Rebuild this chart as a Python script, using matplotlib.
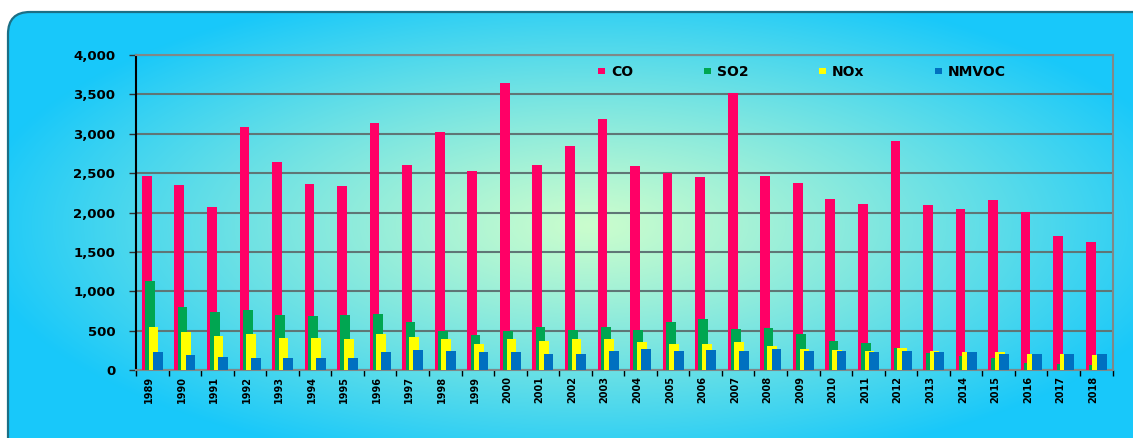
import numpy as np
import matplotlib
matplotlib.use("Agg")
import matplotlib.pyplot as plt
from matplotlib.patches import FancyBboxPatch, Patch
from matplotlib.ticker import FuncFormatter, MultipleLocator

plt.rcParams["font.family"] = ["DejaVu Sans"]
plt.rcParams["font.weight"] = "bold"

years = [str(y) for y in range(1989, 2019)]

co = [2460, 2350, 2070, 3090, 2640, 2360, 2335, 3140, 2600, 3020,
      2525, 3640, 2600, 2845, 3185, 2590, 2500, 2450, 3515, 2460,
      2375, 2170, 2105, 2905, 2095, 2045, 2160, 2005, 1700, 1625]
so2 = [1130, 800, 735, 765, 700, 685, 700, 710, 610, 495,
       440, 495, 545, 505, 545, 505, 605, 645, 520, 535,
       455, 365, 340, 275, 210, 180, 155, 95, 80, 65]
nox = [545, 480, 430, 460, 405, 405, 395, 460, 420, 390,
       330, 390, 365, 390, 395, 360, 335, 335, 360, 310,
       270, 250, 245, 285, 235, 225, 225, 205, 205, 195]
nmvoc = [225, 195, 170, 155, 155, 155, 155, 225, 250, 245,
         225, 225, 205, 205, 235, 265, 245, 250, 240, 270,
         245, 240, 230, 235, 225, 225, 205, 205, 205, 205]

series = ["CO", "SO2", "NOx", "NMVOC"]
colors = ["#ff0066", "#00a651", "#ffff00", "#0070c0"]

W, H = 1133, 438
fig = plt.figure(figsize=(W / 100, H / 100), dpi=100)

# background: rounded panel with radial gradient
bg = fig.add_axes([0, 0, 1, 1])
bg.set_xlim(0, W)
bg.set_ylim(H, 0)
bg.axis("off")

xx, yy = np.meshgrid(np.arange(W), np.arange(H))
r = np.sqrt(((xx - 590) / 620.0) ** 2 + ((yy - 225) / 250.0) ** 2)
t = np.clip(r, 0, 1) ** 1.15
c_in = np.array([202, 253, 205]) / 255.0
c_out = np.array([24, 200, 250]) / 255.0
img = c_in[None, None, :] * (1 - t[..., None]) + c_out[None, None, :] * t[..., None]

panel = FancyBboxPatch((8, 12), 1160, 460, boxstyle="round,pad=0,rounding_size=22",
                       facecolor="none", edgecolor="#1c6f85", linewidth=1.6,
                       transform=bg.transData, zorder=3)
bg.add_patch(panel)
im = bg.imshow(img, extent=(0, W, H, 0), zorder=1, interpolation="bilinear")
im.set_clip_path(panel)

# main chart
left, right, top, bottom = 136, 1112.5, 55, 370
ax = fig.add_axes([left / W, 1 - bottom / H, (right - left) / W, (bottom - top) / H])
ax.patch.set_visible(False)

x = np.arange(len(years))
width = 0.3
offsets = [0.18, 0.28, 0.385, 0.525]
for vals, name, col, off in zip([co, so2, nox, nmvoc], series, colors, offsets):
    ax.bar(x + off, vals, width=width, align="edge", color=col, label=name,
           linewidth=0, zorder=3)

ax.set_xlim(0, len(years))
ax.set_ylim(0, 4000)
ax.yaxis.set_major_locator(MultipleLocator(500))
ax.yaxis.set_major_formatter(FuncFormatter(lambda v, p: f"{int(v):,}"))
ax.grid(axis="y", color="#5f7676", linewidth=1.5, zorder=1)
ax.set_axisbelow(True)

ax.set_xticks(x + 0.4)
ax.set_xticklabels(years, rotation=90, fontsize=7, fontweight="bold")
ax.set_xticks(np.arange(len(years) + 1), minor=True)
ax.tick_params(axis="x", which="major", length=0, pad=4)
ax.tick_params(axis="x", which="minor", length=4, width=1, color="black", direction="out")
ax.tick_params(axis="y", length=5, width=1, color="#333333", pad=10, labelsize=9.5)
for lab in ax.get_yticklabels():
    lab.set_fontweight("bold")

for s in ["top", "right", "bottom"]:
    ax.spines[s].set_color("#808888")
    ax.spines[s].set_linewidth(1.5)
ax.spines["left"].set_color("black")
ax.spines["left"].set_linewidth(1.5)

handles = [Patch(facecolor=c, edgecolor="none") for c in colors]
fig.legend(handles, series, loc="center left",
           bbox_to_anchor=(598 / W, 1 - 72 / H), bbox_transform=fig.transFigure,
           ncol=4, frameon=False, borderpad=0, borderaxespad=0,
           handlelength=0.5, handleheight=0.36, handletextpad=0.42,
           columnspacing=5.1, prop={"size": 10, "weight": "bold"})

fig.savefig("out.png", dpi=100)
